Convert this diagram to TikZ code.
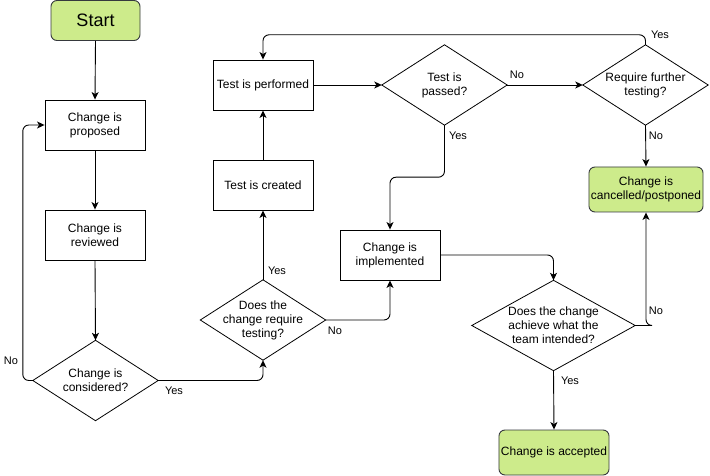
\documentclass[tikz,border=0pt]{standalone}
\usepackage{fontspec}
\setmainfont{Liberation Sans}
\usetikzlibrary{arrows.meta}
\definecolor{gfill}{HTML}{CDEB8B}
\definecolor{gdraw}{HTML}{36393D}
\begin{document}
\begin{tikzpicture}[x=1pt,y=1pt,
  font=\fontsize{12}{14}\selectfont,
  box/.style={draw=black, line width=0.9pt, rectangle, minimum width=100pt, minimum height=50pt, align=center, inner sep=2pt},
  gbox/.style={draw=gdraw, line width=0.9pt, fill=gfill, rectangle, rounded corners=6pt, align=center, inner sep=2pt},
  dia/.style={rectangle, minimum width=125pt, minimum height=80pt, align=center, inner sep=0pt,
    append after command={\pgfextra{\draw[black, line width=0.8pt, line join=miter] (\tikzlastnode.west) -- (\tikzlastnode.north) -- (\tikzlastnode.east) -- (\tikzlastnode.south) -- cycle;}}},
  tip/.tip={Stealth[length=7.5pt,width=7pt,inset=2pt]},
  arr/.style={draw=black, line width=0.9pt, -tip},
  rc/.style={rounded corners=6pt},
  lbl/.style={font=\fontsize{11}{13}\selectfont, inner sep=0pt}]
\useasboundingbox (0,0) rectangle (710,-476);
% nodes
\node[gbox, minimum width=89pt, minimum height=40pt, font=\fontsize{18}{20}\selectfont] (nStart) at (95.5,-20.5) {Start};
\node[box] (nProp) at (95,-125) {Change is\\proposed};
\node[box] (nRev) at (95,-235) {Change is\\reviewed};
\node[dia] (nCons) at (95.5,-380.5) {Change is\\considered?};
\node[dia] (nReq) at (263,-320) {Does the\\change require\\testing?};
\node[box] (nCreated) at (263,-185) {Test is created};
\node[box] (nPerf) at (263,-85) {Test is performed};
\node[dia] (nPassed) at (444.5,-85) {Test is\\passed?};
\node[dia] (nFurther) at (645.5,-85) {Require further\\testing?};
\node[gbox, minimum width=110pt, minimum height=45pt] (nCanc) at (646,-189.5) {Change is\\cancelled/postponed};
\node[box] (nImpl) at (390,-255) {Change is\\implemented};
\node[dia, minimum width=163pt, minimum height=90pt] (nAch) at (553.5,-325.5) {Does the change\\achieve what the\\team intended?};
\node[gbox, minimum width=110pt, minimum height=45pt] (nAcc) at (554,-452.5) {Change is accepted};
% connectors
\draw[arr] (nStart.south) -- (nProp.north);
\draw[arr] (nProp.south) -- (nRev.north);
\draw[arr] (nRev.south) -- (nCons.north);
\draw[arr] (nCons.west) {[rc] -- ++(-10,0) |- (nProp.west)};
\draw[arr] (nCons.east) {[rc] -| (nReq.south)};
\draw[arr] (nReq.north) -- (nCreated.south);
\draw[arr] (nCreated.north) -- (nPerf.south);
\draw[arr] (nPerf.east) -- (nPassed.west);
\draw[arr] (nPassed.south) {[rc] -- ++(0,-52) -| (nImpl.north)};
\draw[arr] (nPassed.east) -- (nFurther.west);
\draw[arr] (nFurther.north) {[rc] -- ++(0,10) -| (nPerf.north)};
\draw[arr] (nFurther.south) -- (nCanc.north);
\draw[arr] (nReq.east) {[rc] -| (nImpl.south)};
\draw[arr] (nImpl.east) {[rc] -| (nAch.north)};
\draw[arr] (nAch.east) {[rc] -- ++(11,0) -| (nCanc.south)};
\draw[arr] (nAch.south) -- (nAcc.north);
% labels
\node[lbl] (lNo1) at (11,-361) {No};
\node[lbl] (lYes1) at (174,-391) {Yes};
\node[lbl] (lYes2) at (277,-271) {Yes};
\node[lbl] (lNo2) at (335,-331) {No};
\node[lbl] (lNo3) at (517,-75) {No};
\node[lbl] (lYes3) at (458,-136) {Yes};
\node[lbl] (lYes4) at (660,-35) {Yes};
\node[lbl] (lNo4) at (656,-136) {No};
\node[lbl] (lNo5) at (656,-311) {No};
\node[lbl] (lYes5) at (570,-381) {Yes};
\end{tikzpicture}
\end{document}
